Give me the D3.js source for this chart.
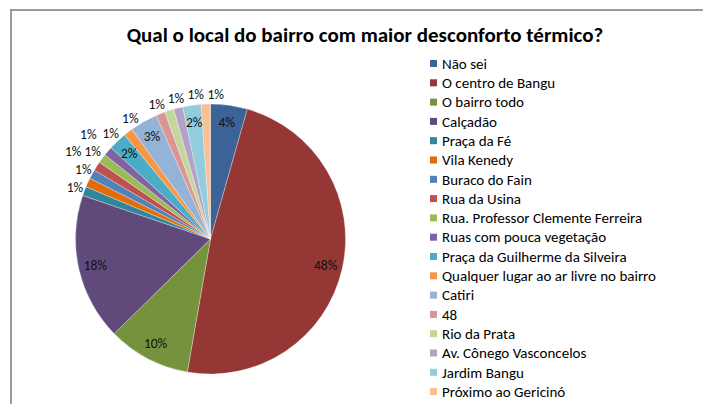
<!DOCTYPE html>
<html><head><meta charset="utf-8">
<script src="https://cdn.jsdelivr.net/npm/d3@7/dist/d3.min.js"></script>
<style>
html,body{margin:0;padding:0;background:#fff;}
svg{display:block;font-family:Carlito,Lato,"Open Sans",sans-serif;}
</style></head><body>
<svg id="chart" width="703" height="404"></svg>
<script>
const title = "Qual o local do bairro com maior desconforto térmico?";
const categories = ["Não sei","O centro de Bangu","O bairro todo","Calçadão","Praça da Fé","Vila Kenedy","Buraco do Fain","Rua da Usina","Rua. Professor Clemente Ferreira","Ruas com pouca vegetação","Praça da Guilherme da Silveira","Qualquer lugar ao ar livre no bairro","Catiri","48"," Rio da Prata","Av. Cônego Vasconcelos","Jardim Bangu","Próximo ao Gericinó"];
const counts = [4,44,9,16,1,1,1,1,1,1,2,1,3,1,1,1,2,1];
const colors = ["#3c6397","#943735","#77923c","#604a7b","#31869b","#e36c0a","#4f81bd","#c0504d","#9bbb59","#8064a2","#4bacc6","#f79646","#95b3d7","#d99694","#c3d69b","#b3a2c7","#93cddd","#fac090"];

const svg = d3.select("#chart");
svg.append("rect").attr("x",11).attr("y",10).attr("width",720).attr("height",420)
  .attr("fill","#fff").attr("stroke","#9a9a9a").attr("stroke-width",2);

svg.append("text").attr("x",365).attr("y",42).attr("text-anchor","middle")
  .attr("font-weight","bold").attr("font-size",21).attr("fill","#000").text(title);

const cx = 210.5, cy = 239, r = 135;
const total = d3.sum(counts);
const data = categories.map((c,i)=>({name:c, value:counts[i], color:colors[i]}));
const pie = d3.pie().value(d=>d.value).sort(null);
const arcs = pie(data);
const arc = d3.arc().innerRadius(0).outerRadius(r);
const g = svg.append("g").attr("transform",`translate(${cx},${cy})`);
g.selectAll("path").data(arcs).enter().append("path")
  .attr("d",arc).attr("fill",d=>d.data.color)
  .attr("stroke","#fff").attr("stroke-opacity",0.5).attr("stroke-width",0.6);

const fmt = v => Math.round(v/total*100) + "%";
const placed = [];
const deg = Math.PI/180;
arcs.forEach(a=>{
  const ang = (a.startAngle+a.endAngle)/2;
  const inside = a.data.value >= 2;
  const t = g.append("text").attr("dy","0.35em")
    .attr("text-anchor","middle").attr("font-size",13.5).attr("fill","#111")
    .text(fmt(a.data.value));
  if(inside){
    const rr = r*0.875;
    t.attr("x",Math.sin(ang)*rr).attr("y",-Math.cos(ang)*rr);
    return;
  }
  const bb = t.node().getBBox();
  const w = bb.width + 1, h = bb.height;
  let best=null;
  outer:
  for(let dr=0; dr<=40; dr+=2){
    for(const k of [0,-1,1,-2,2,-3,3,-4,4]){
      const aa = ang + k*2*deg, rr = r + 10 + dr;
      const x = Math.sin(aa)*rr, y = -Math.cos(aa)*rr;
      const ok = !placed.some(p=>Math.abs(p.x-x) < (p.w+w)/2 && Math.abs(p.y-y) < (p.h+h)/2);
      if(ok){ best={x,y,w,h}; break outer; }
    }
  }
  if(!best){ const rr=r+10; best={x:Math.sin(ang)*rr,y:-Math.cos(ang)*rr,w,h}; }
  placed.push(best);
  t.attr("x",best.x).attr("y",best.y);
});

const leg = svg.append("g");
data.forEach((d,i)=>{
  const y = 63.5 + i*19.3;
  leg.append("rect").attr("x",430).attr("y",y-3.5).attr("width",7).attr("height",7).attr("fill",d.color);
  leg.append("text").attr("x",442).attr("y",y).attr("dy","0.35em")
    .attr("font-size",15).attr("fill","#000").text(d.name);
});
</script>
</body></html>
